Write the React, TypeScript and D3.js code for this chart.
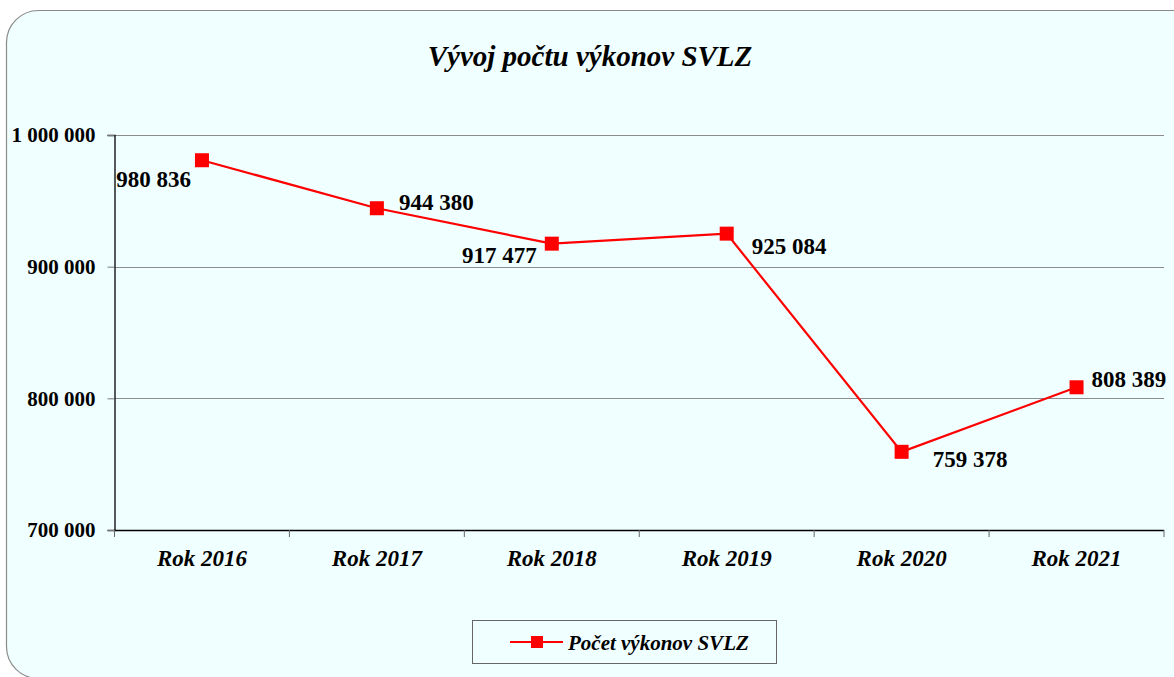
import React, { useEffect, useRef } from "react";
import * as d3 from "d3";

// values
const years = ["Rok 2016", "Rok 2017", "Rok 2018", "Rok 2019", "Rok 2020", "Rok 2021"];
const counts = [980836, 944380, 917477, 925084, 759378, 808389];
const yTicks = [700000, 800000, 900000, 1000000];
const seriesName = "Počet výkonov SVLZ";
const title = "Vývoj počtu výkonov SVLZ";

// where each value label sits relative to its point
const labelPlace = [
  { dx: -11, dy: 27, anchor: "end" },
  { dx: 22, dy: 2, anchor: "start" },
  { dx: -15, dy: 19, anchor: "end" },
  { dx: 25, dy: 20, anchor: "start" },
  { dx: 31, dy: 15, anchor: "start" },
  { dx: 15, dy: 0, anchor: "start" },
];

const W = 1174;
const H = 677;
const FONT = "'Liberation Serif', 'Times New Roman', serif";
const fmt = (v: number) => d3.format(",")(v).replace(/,/g, " ");

export default function App() {
  const svgRef = useRef<SVGSVGElement>(null);

  useEffect(() => {
    const svg = d3.select(svgRef.current);
    svg.selectAll("*").remove();

    const left = 114.5, right = 1164, top = 135, bottom = 530;

    svg.append("rect")
      .attr("x", 6.5).attr("y", 10.5)
      .attr("width", 1200).attr("height", 668)
      .attr("rx", 32).attr("ry", 32)
      .attr("fill", "#f0ffff")
      .attr("stroke", "#8a8a8a").attr("stroke-width", 1.2);

    svg.append("text")
      .attr("x", 590).attr("y", 66)
      .attr("text-anchor", "middle")
      .style("font-family", FONT).style("font-size", "29px")
      .style("font-weight", "bold").style("font-style", "italic")
      .text(title);

    const x = d3.scaleBand().domain(years).range([left, right]);
    const y = d3.scaleLinear().domain([700000, 1000000]).range([bottom, top]);

    // gridlines
    svg.append("g").selectAll("line")
      .data(yTicks.filter((t) => t > 700000))
      .enter().append("line")
      .attr("x1", left).attr("x2", right)
      .attr("y1", (d) => Math.round(y(d)) + 0.5).attr("y2", (d) => Math.round(y(d)) + 0.5)
      .attr("stroke", "#8c8c8c").attr("stroke-width", 1.2);

    // y axis
    const yAxis = svg.append("g")
      .attr("transform", `translate(${left},0)`)
      .call(d3.axisLeft(y).tickValues(yTicks).tickSize(7).tickPadding(12).tickFormat((d) => fmt(+d)));
    yAxis.select(".domain").attr("stroke", "#000").attr("stroke-width", 1.3);
    yAxis.selectAll(".tick line").attr("stroke", "#777");
    yAxis.selectAll("text")
      .style("font-family", FONT).style("font-size", "21px").style("font-weight", "bold")
      .attr("fill", "#000");

    // x axis with ticks at category boundaries
    const xAxis = svg.append("g").attr("transform", `translate(0,${bottom})`);
    xAxis.append("line")
      .attr("x1", left).attr("x2", right).attr("y1", 0.5).attr("y2", 0.5)
      .attr("stroke", "#000").attr("stroke-width", 1.3);
    xAxis.selectAll("line.tk")
      .data(years.map((yr) => x(yr)! + x.bandwidth()).concat([left]))
      .enter().append("line").attr("class", "tk")
      .attr("x1", (d) => d).attr("x2", (d) => d)
      .attr("y1", 0).attr("y2", 7)
      .attr("stroke", "#666");
    xAxis.selectAll("text")
      .data(years)
      .enter().append("text")
      .attr("x", (d) => x(d)! + x.bandwidth() / 2)
      .attr("y", 36)
      .attr("text-anchor", "middle")
      .style("font-family", FONT).style("font-size", "23px")
      .style("font-weight", "bold").style("font-style", "italic")
      .text((d) => d);

    const cx = (i: number) => x(years[i])! + x.bandwidth() / 2;

    const line = d3.line<number>().x((_, i) => cx(i)).y((d) => y(d));
    svg.append("path")
      .datum(counts)
      .attr("d", line)
      .attr("fill", "none")
      .attr("stroke", "#ff0000").attr("stroke-width", 2.2);

    svg.append("g").selectAll("rect")
      .data(counts)
      .enter().append("rect")
      .attr("x", (_, i) => cx(i) - 7).attr("y", (d) => y(d) - 7)
      .attr("width", 14).attr("height", 14)
      .attr("fill", "#ff0000");

    svg.append("g").selectAll("text")
      .data(counts)
      .enter().append("text")
      .attr("x", (_, i) => cx(i) + labelPlace[i].dx)
      .attr("y", (d, i) => y(d) + labelPlace[i].dy)
      .attr("text-anchor", (_, i) => labelPlace[i].anchor)
      .style("font-family", FONT).style("font-size", "23px").style("font-weight", "bold")
      .text((d) => fmt(d));

    // legend
    const lg = svg.append("g");
    lg.append("rect")
      .attr("x", 472.5).attr("y", 620.5).attr("width", 304).attr("height", 43)
      .attr("fill", "none").attr("stroke", "#666").attr("stroke-width", 1);
    lg.append("line")
      .attr("x1", 510).attr("x2", 563).attr("y1", 642).attr("y2", 642)
      .attr("stroke", "#ff0000").attr("stroke-width", 2.2);
    lg.append("rect")
      .attr("x", 531).attr("y", 636).attr("width", 12).attr("height", 12)
      .attr("fill", "#ff0000");
    lg.append("text")
      .attr("x", 568).attr("y", 650)
      .style("font-family", FONT).style("font-size", "21px")
      .style("font-weight", "bold").style("font-style", "italic")
      .text(seriesName);
  }, []);

  return (
    <div style={{ position: "absolute", left: 0, top: 0, width: W, height: H, overflow: "hidden", background: "#fff" }}>
      <svg ref={svgRef} width={W} height={H} />
    </div>
  );
}
